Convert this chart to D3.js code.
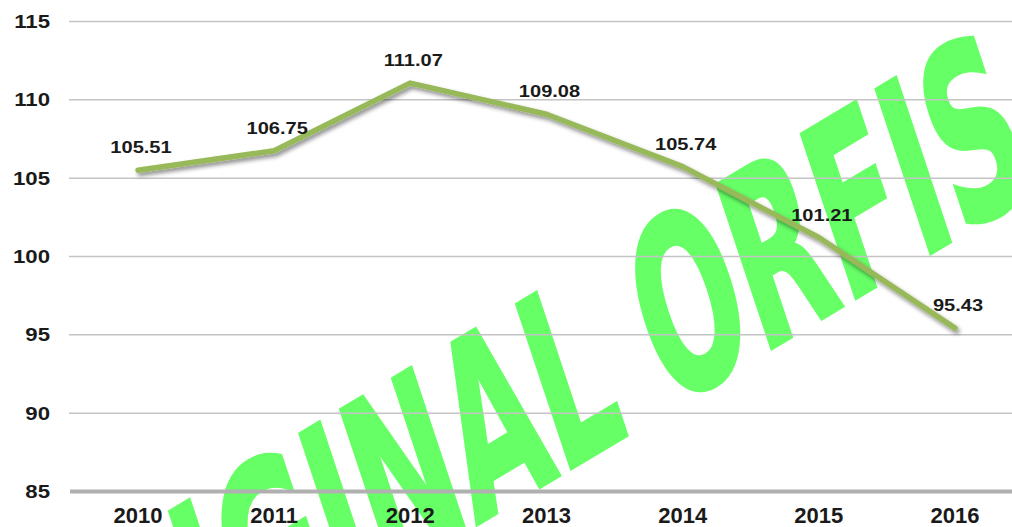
<!DOCTYPE html>
<html><head><meta charset="utf-8">
<script src="https://cdn.jsdelivr.net/npm/d3@7"></script>
<style>body{margin:0;background:#fff;} svg{display:block;background:#fff}</style>
</head><body><svg id="c" width="1012" height="527"></svg>
<script>
const years = ["2010","2011","2012","2013","2014","2015","2016"];
const values = [105.51,106.75,111.07,109.08,105.74,101.21,95.43];
const yTicks = [85,90,95,100,105,110,115];
const valueLabels = ["105.51","106.75","111.07","109.08","105.74","101.21","95.43"];
const watermarkText = "ORIGINAL ORFIS";

const svg = d3.select("#c");
const x = d3.scalePoint().domain(years).range([138,955]);
const y = d3.scaleLinear().domain([85,115]).range([491.5,21.5]);
const font = "'Liberation Sans', Arial, sans-serif";

// watermark (behind everything)
const wm = svg.append("g").attr("transform","scale(0.745,1) rotate(-24)");
const t = wm.append("text").text(watermarkText)
  .attr("font-family","'DejaVu Sans Condensed','DejaVu Sans',sans-serif")
  .attr("font-weight","bold").attr("font-size",247).attr("fill","#66ff66")
  .attr("stroke","#66ff66").attr("stroke-width",3.5).attr("stroke-linejoin","miter");
const pre = t.node().getSubStringLength(0,4);
const span = t.node().getSubStringLength(4,10);
const sx = 1022/span;
const x0 = 176 - sx*pre;
t.attr("transform",`translate(${x0},740) scale(${sx},1)`);

// gridlines
svg.append("g").selectAll("line").data(yTicks.filter(d=>d>85)).join("line")
  .attr("x1",69).attr("x2",1012).attr("y1",d=>y(d)).attr("y2",d=>y(d))
  .attr("stroke","#c4c4c4").attr("stroke-width",1.5);
svg.append("line").attr("x1",70).attr("x2",1012).attr("y1",y(85)).attr("y2",y(85))
  .attr("stroke","#b0b0b0").attr("stroke-width",4);

// y labels
svg.append("g").selectAll("text").data(yTicks).join("text")
  .attr("transform",d=>`translate(50,${y(d)}) scale(1.2,1)`)
  .attr("text-anchor","end").attr("dy","0.36em")
  .attr("font-family",font).attr("font-weight","bold").attr("font-size",18.5)
  .attr("fill","#1a1a1a").text(d=>d);

// x labels
svg.append("g").selectAll("text").data(years).join("text")
  .attr("x",d=>x(d)).attr("y",523).attr("text-anchor","middle")
  .attr("font-family",font).attr("font-weight","bold").attr("font-size",22)
  .attr("fill","#1a1a1a").text(d=>d);

// line with shadow
const defs = svg.append("defs");
const f = defs.append("filter").attr("id","sh").attr("x","-10%").attr("y","-10%").attr("width","120%").attr("height","130%");
f.append("feDropShadow").attr("dx",2).attr("dy",3).attr("stdDeviation",2).attr("flood-color","#000").attr("flood-opacity",0.45);
const line = d3.line().x((d,i)=>x(years[i])).y(d=>y(d));
svg.append("path").datum(values).attr("d",line).attr("fill","none")
  .attr("stroke","#98b95a").attr("stroke-width",5.5).attr("stroke-linejoin","round").attr("stroke-linecap","round")
  .attr("filter","url(#sh)");

// data labels
svg.append("g").selectAll("text").data(values).join("text")
  .attr("transform",(d,i)=>`translate(${x(years[i])+3},${y(d)-17}) scale(1.18,1)`)
  .attr("text-anchor","middle")
  .attr("font-family",font).attr("font-weight","bold").attr("font-size",17)
  .attr("fill","#1a1a1a").text((d,i)=>valueLabels[i]);
</script></body></html>
